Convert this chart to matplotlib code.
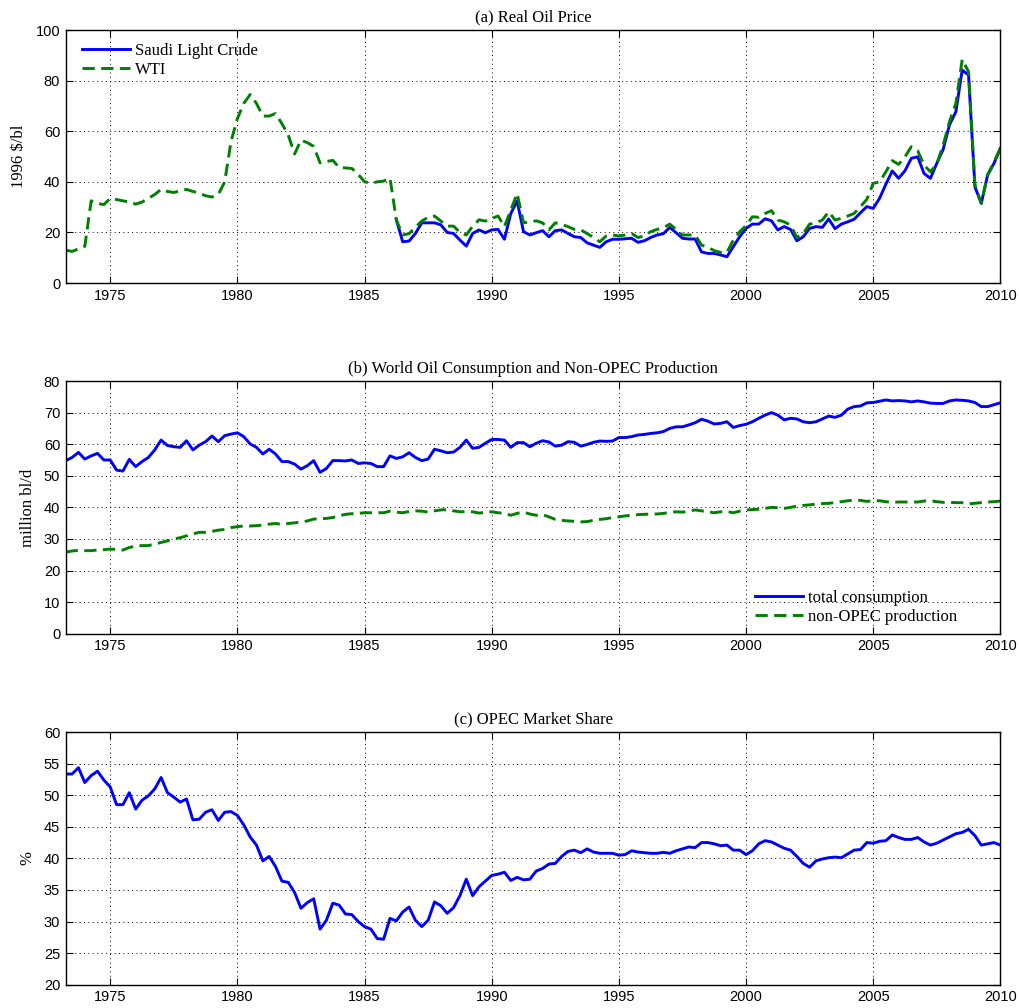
import numpy as np
import matplotlib
matplotlib.use("Agg")
import matplotlib.pyplot as plt

# ---------------- data (quarterly, 1973Q2 .. 2010Q1) ----------------
t_start = 1973.25
n_q = 148

wti = [13, 12.5, 13.5, 14.5, 32.5, 31.5, 31, 33.5, 33, 32.5, 32, 31.2,
       32, 33.5, 35, 37, 36.2, 35.8, 36.5, 37, 36.2, 35.5, 34.5, 34,
       35, 40, 56, 65, 71, 74.5, 71, 66, 66, 67, 63, 58.5,
       51, 56.5, 55.5, 54, 47.5, 48, 48.5, 45.7, 45.5, 45.3, 43, 40,
       39.5, 40, 40.3, 41.5, 25, 19, 19.5, 22, 24.5, 26, 26.5, 24.5,
       22.5, 22.5, 20, 19, 22.5, 25, 24.5, 25.5, 26.5, 22.3, 28.8, 35.4,
       23.8, 24.2, 24.6, 23.8, 21, 23.8, 23.2, 22.3, 21.2, 21, 19.6, 18,
       16.3, 18.6, 19, 18.6, 19, 19.6, 18, 18.6, 20.3, 21.2, 21.9, 23.3,
       21.2, 19, 19, 19, 15, 14.1, 12.8, 12.1, 12.1, 17, 20.3, 22.7,
       26.2, 26, 27.5, 28.6, 24.9, 24.2, 22.9, 18, 19.6, 23.3, 23.8, 24.9,
       28.2, 24.9, 25.6, 26.5, 27.5, 30.2, 33.1, 39.4, 40, 44, 48.4, 46.9,
       49.9, 53.9, 52.3, 46.6, 44, 47.1, 54.5, 63.8, 71, 88.4, 83.5, 38.7,
       31.5, 42.7, 48, 53.2]

saudi_start = 1986.25
saudi = [25, 16.3, 16.6, 19.6, 23.8, 23.8, 23.8, 23,
         20, 19.6, 17, 14.6, 19.6, 21, 19.9, 21, 21.2, 17.3, 27.5, 32.4,
         20.3, 19, 19.9, 20.7, 18.3, 20.7, 21, 19.6, 18.3, 18, 15.9, 15,
         14.1, 16.3, 17.3, 17.3, 17.5, 17.7, 16.1, 16.7, 18, 19, 19.5, 22,
         19.9, 17.7, 17.4, 17.4, 12.3, 11.7, 11.7, 11.1, 10.4, 14.4, 18.3, 21.6,
         23.3, 23.3, 25.4, 24.6, 21, 22.3, 21.2, 16.7, 18.3, 21.6, 22.3, 22,
         25.3, 21.5, 23.3, 24.2, 25.2, 27.8, 30.2, 29.5, 33.5, 39.1, 44.3, 41.4,
         44.4, 49.3, 49.9, 43.3, 41.4, 47.3, 52.8, 62.5, 67.7, 84.2, 82.2, 38,
         31.5, 42.7, 47.3, 53.2]

consumption = [54.8, 55.8, 57.4, 55.3, 56.3, 57.1, 55, 55, 51.8, 51.5, 55.2, 52.9,
               54.5, 55.8, 58.2, 61.3, 59.6, 59.2, 59, 61.1, 58.2, 59.7, 60.8, 62.6,
               60.8, 62.7, 63.2, 63.6, 62.4, 60.1, 59, 56.9, 58.4, 56.9, 54.5, 54.5,
               53.7, 52.1, 53.2, 54.8, 51.1, 52.3, 54.8, 54.8, 54.7, 55, 53.9, 54.1,
               53.9, 52.9, 52.9, 56.3, 55.5, 56, 57.3, 55.8, 54.8, 55.3, 58.4, 57.9,
               57.3, 57.5, 59, 61.3, 58.7, 59, 60.3, 61.5, 61.5, 61.3, 59, 60.5,
               60.5, 59.2, 60.3, 61.1, 60.7, 59.4, 59.7, 60.8, 60.6, 59.4, 59.9, 60.6,
               61, 60.9, 61, 62.1, 62.1, 62.4, 62.9, 63.1, 63.4, 63.6, 64, 65,
               65.5, 65.5, 66.1, 66.8, 67.9, 67.3, 66.4, 66.6, 67.1, 65.3, 65.9, 66.3,
               67.1, 68.2, 69.2, 70, 69.2, 67.7, 68.2, 68, 67.1, 66.8, 67.1, 68,
               68.9, 68.5, 69.2, 71.1, 71.9, 72.1, 73.1, 73.2, 73.6, 74, 73.7, 73.8,
               73.7, 73.4, 73.7, 73.4, 73, 72.9, 72.9, 73.7, 74, 73.9, 73.7, 73.2,
               71.9, 71.9, 72.5, 73.1]

non_opec = [25.8, 26.2, 26.4, 26.3, 26.3, 26.5, 26.6, 26.8, 26.7, 26.5, 27.3, 27.8,
            27.9, 27.9, 28.4, 28.9, 29.4, 30, 30.4, 31, 31.6, 32.1, 32.1, 32.4,
            32.8, 33, 33.6, 33.9, 34.1, 34.1, 34.2, 34.4, 34.7, 34.9, 34.6, 34.9,
            35.1, 35.4, 35.7, 36.3, 36.4, 36.5, 36.8, 37.3, 37.8, 38, 38.1, 38.3,
            38.3, 38.3, 38.3, 38.8, 38.5, 38.3, 38.7, 38.9, 38.8, 38.5, 38.9, 39.2,
            39.3, 38.9, 38.6, 38.7, 38.6, 38.2, 38.4, 38.6, 38.3, 38.1, 37.5, 38.1,
            38.5, 37.9, 37.5, 37.7, 37, 36.2, 35.9, 35.7, 35.6, 35.4, 35.5, 35.9,
            36.2, 36.4, 36.8, 37, 37.3, 37.5, 37.7, 37.8, 37.9, 37.9, 38.1, 38.4,
            38.6, 38.5, 38.8, 39.2, 38.9, 38.6, 38.3, 38.6, 38.7, 38.3, 38.8, 39.2,
            39.3, 39.4, 39.7, 40, 39.9, 39.7, 40, 40.4, 40.6, 40.8, 41, 41.2,
            41.3, 41.5, 41.8, 42.1, 42.3, 42.2, 41.9, 42.1, 42.1, 41.8, 41.6, 41.7,
            41.7, 41.7, 41.7, 42, 42.1, 41.8, 41.6, 41.6, 41.5, 41.5, 41.1, 41.3,
            41.5, 41.7, 41.8, 42]

opec_share = [53.35, 53.35, 54.35, 52.0, 53.1, 53.8, 52.4, 51.3, 48.5, 48.5, 50.4, 47.8,
              49.2, 49.9, 51, 52.8, 50.4, 49.7, 48.9, 49.4, 46.1, 46.2, 47.3, 47.7,
              46, 47.3, 47.4, 46.8, 45.3, 43.4, 42.1, 39.6, 40.3, 38.7, 36.4, 36.2,
              34.6, 32.1, 33, 33.6, 28.8, 30.2, 32.9, 32.6, 31.2, 31.1, 30, 29.2,
              28.8, 27.3, 27.2, 30.5, 30.1, 31.5, 32.3, 30.2, 29.2, 30.2, 33.1, 32.5,
              31.3, 32.2, 34.1, 36.7, 34.1, 35.5, 36.4, 37.3, 37.5, 37.8, 36.5, 37,
              36.6, 36.7, 38, 38.4, 39.1, 39.2, 40.3, 41.1, 41.3, 40.9, 41.5, 41,
              40.8, 40.8, 40.8, 40.5, 40.6, 41.2, 41, 40.9, 40.8, 40.8, 40.95, 40.8,
              41.2, 41.5, 41.8, 41.7, 42.5, 42.5, 42.3, 42, 42.1, 41.3, 41.3, 40.6,
              41.2, 42.3, 42.8, 42.6, 42.1, 41.6, 41.3, 40.3, 39.2, 38.6, 39.6, 39.9,
              40.1, 40.2, 40.1, 40.7, 41.3, 41.4, 42.5, 42.4, 42.7, 42.8, 43.7, 43.3,
              43, 43, 43.3, 42.6, 42.1, 42.4, 42.9, 43.4, 43.9, 44.1, 44.6, 43.6,
              42.1, 42.3, 42.5, 42.1]

x_ticks = [1975, 1980, 1985, 1990, 1995, 2000, 2005, 2010]
titles = ["(a) Real Oil Price",
          "(b) World Oil Consumption and Non-OPEC Production",
          "(c) OPEC Market Share"]
ylabels = ["1996 $/bl", "million bl/d", "%"]

# ---------------- plotting ----------------
t = t_start + 0.25 * np.arange(n_q)
t_saudi = saudi_start + 0.25 * np.arange(len(saudi))

BLUE = (0, 0, 1)
GREEN = (0, 0.5, 0)
SERIF = "Liberation Serif"
SANS = "Liberation Sans"
LW = 2.1
DASH = (0, (4.2, 2.2))

fig = plt.figure(figsize=(10.19, 10.08), dpi=100)
left, width = 0.0645, 0.9172
ax_a = fig.add_axes([left, 0.7192, width, 0.2510])
ax_b = fig.add_axes([left, 0.3713, width, 0.2507])
ax_c = fig.add_axes([left, 0.0231, width, 0.2507])


def style(ax, yticks, ylim, title, ylabel, ylabel_x):
    ax.set_xlim(t_start, 2010)
    ax.set_ylim(*ylim)
    ax.set_xticks(x_ticks)
    ax.set_yticks(yticks)
    ax.tick_params(direction="in", top=True, right=True, length=5,
                   width=0.8, labelsize=10.5, pad=4)
    for lab in ax.get_xticklabels() + ax.get_yticklabels():
        lab.set_fontfamily(SANS)
    ax.grid(True, color="black", linestyle=(0, (1, 3.5)), linewidth=0.7)
    for s in ax.spines.values():
        s.set_linewidth(1.0)
    ax.set_title(title, fontfamily=SERIF, fontsize=12, pad=6)
    ax.set_ylabel(ylabel, fontfamily=SERIF, fontsize=12)
    ax.yaxis.set_label_coords(ylabel_x, 0.5)


ax_a.plot(t_saudi, saudi, color=BLUE, lw=LW, label="Saudi Light Crude")
ax_a.plot(t, wti, color=GREEN, lw=LW, linestyle=DASH, label="WTI")
style(ax_a, [0, 20, 40, 60, 80, 100], (0, 100), titles[0], ylabels[0], -0.0414)
ax_a.legend(loc="upper left", bbox_to_anchor=(0.017, 0.95), frameon=False,
            prop={"family": SERIF, "size": 12}, handlelength=2.9,
            handletextpad=0.3, labelspacing=0.2, borderpad=0, borderaxespad=0)

ax_b.plot(t, consumption, color=BLUE, lw=LW, label="total consumption")
ax_b.plot(t, non_opec, color=GREEN, lw=LW, linestyle=DASH, label="non-OPEC production")
style(ax_b, list(range(0, 81, 10)), (0, 80), titles[1], ylabels[1], -0.032)
ax_b.legend(loc="lower left", bbox_to_anchor=(0.7375, 0.035), frameon=False,
            prop={"family": SERIF, "size": 12}, handlelength=2.9,
            handletextpad=0.3, labelspacing=0.2, borderpad=0, borderaxespad=0)

ax_c.plot(t, opec_share, color=BLUE, lw=LW)
style(ax_c, list(range(20, 61, 5)), (20, 60), titles[2], ylabels[2], -0.033)

fig.savefig("out.png", dpi=100)
